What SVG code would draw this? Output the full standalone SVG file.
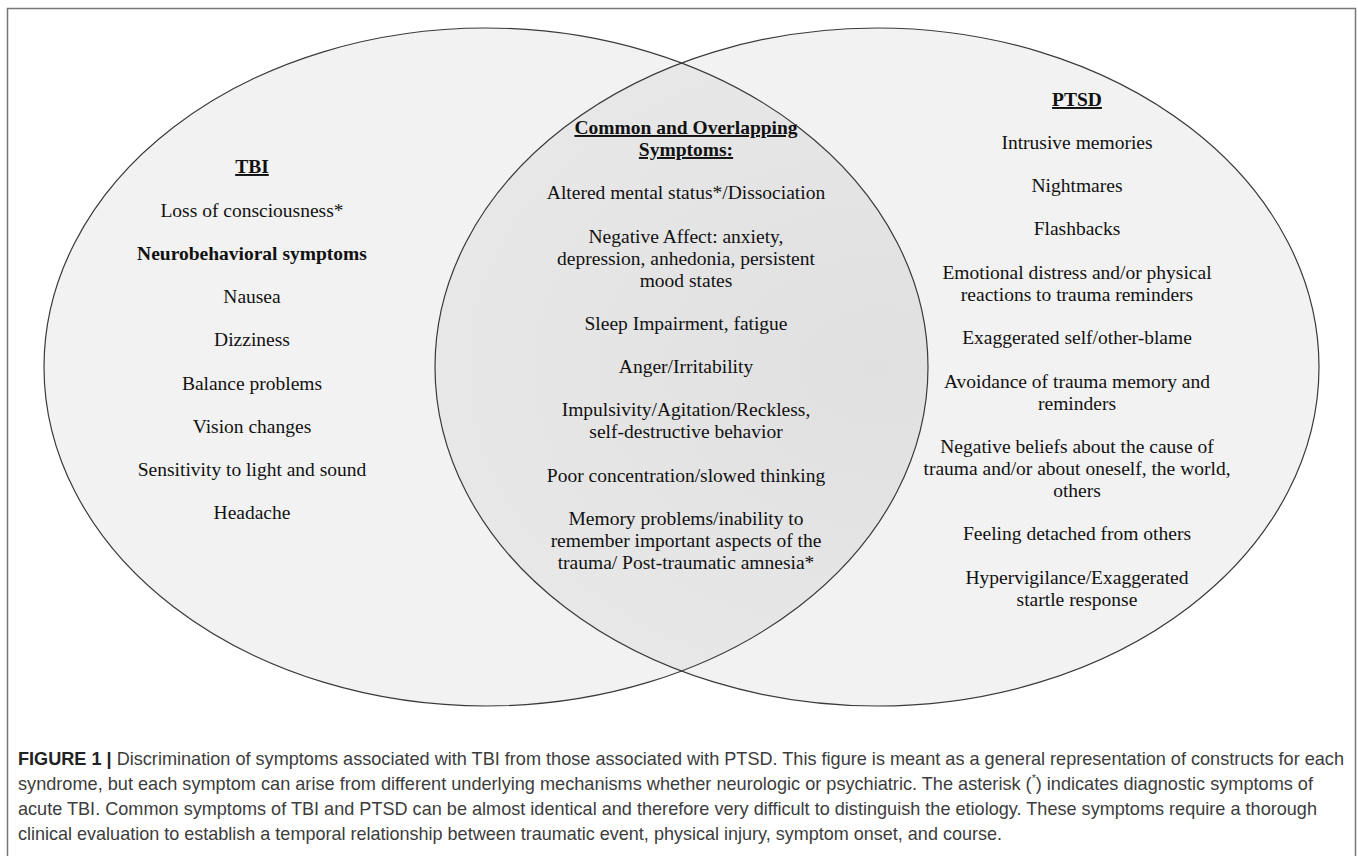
<svg xmlns="http://www.w3.org/2000/svg" width="1358" height="856" viewBox="0 0 1358 856">
<style>
.t{font-family:"Liberation Serif","Times New Roman",serif;font-size:19.5px;fill:#111;text-anchor:middle}
.b{font-weight:bold}
.u{text-decoration:underline}
.cap{font-family:"Liberation Sans",Arial,sans-serif;font-size:19px;fill:#3c3c3c}
.ell{fill:#f2f2f2;stroke:none}
.edge{fill:none;stroke:#3a3a3a;stroke-width:1.2}
</style>
<defs>
<clipPath id="clipL"><ellipse cx="486" cy="367" rx="442" ry="339"/></clipPath>
<radialGradient id="lens" cx="0.5" cy="0.5" r="0.6">
<stop offset="0" stop-color="#e0e0e0"/>
<stop offset="1" stop-color="#e9e9e9"/>
</radialGradient>
</defs>
<rect width="1358" height="856" fill="#fff"/>
<path d="M7.5,856 V8.5 H1355.5 V856" fill="none" stroke="#777" stroke-width="1.5"/>
<g id="tbi">
<ellipse class="ell" cx="486" cy="367" rx="442" ry="339"/>
</g>
<g id="ptsd">
<ellipse class="ell" cx="877" cy="367" rx="442" ry="339"/>
</g>
<g id="overlap">
<ellipse cx="877" cy="367" rx="442" ry="339" fill="url(#lens)" clip-path="url(#clipL)"/>
</g>
<g id="outlines">
<ellipse class="edge" cx="486" cy="367" rx="442" ry="339"/>
<ellipse class="edge" cx="877" cy="367" rx="442" ry="339"/>
</g>
<g id="tbi-text">
<text class="t b u" x="252" y="173">TBI</text>
<text class="t" x="252" y="217">Loss of consciousness*</text>
<text class="t b" x="252" y="260">Neurobehavioral symptoms</text>
<text class="t" x="252" y="303">Nausea</text>
<text class="t" x="252" y="346">Dizziness</text>
<text class="t" x="252" y="390">Balance problems</text>
<text class="t" x="252" y="433">Vision changes</text>
<text class="t" x="252" y="476">Sensitivity to light and sound</text>
<text class="t" x="252" y="519">Headache</text>
</g>
<g id="overlap-text">
<text class="t b u" x="686" y="134">Common and Overlapping</text>
<text class="t b u" x="686" y="156">Symptoms:</text>
<text class="t" x="686" y="199">Altered mental status*/Dissociation</text>
<text class="t" x="686" y="243">Negative Affect: anxiety,</text>
<text class="t" x="686" y="265">depression, anhedonia, persistent</text>
<text class="t" x="686" y="287">mood states</text>
<text class="t" x="686" y="330">Sleep Impairment, fatigue</text>
<text class="t" x="686" y="373">Anger/Irritability</text>
<text class="t" x="686" y="416">Impulsivity/Agitation/Reckless,</text>
<text class="t" x="686" y="438">self-destructive behavior</text>
<text class="t" x="686" y="482">Poor concentration/slowed thinking</text>
<text class="t" x="686" y="525">Memory problems/inability to</text>
<text class="t" x="686" y="547">remember important aspects of the</text>
<text class="t" x="686" y="569">trauma/ Post-traumatic amnesia*</text>
</g>
<g id="ptsd-text">
<text class="t b u" x="1077" y="106">PTSD</text>
<text class="t" x="1077" y="149">Intrusive memories</text>
<text class="t" x="1077" y="192">Nightmares</text>
<text class="t" x="1077" y="235">Flashbacks</text>
<text class="t" x="1077" y="279">Emotional distress and/or physical</text>
<text class="t" x="1077" y="301">reactions to trauma reminders</text>
<text class="t" x="1077" y="344">Exaggerated self/other-blame</text>
<text class="t" x="1077" y="388">Avoidance of trauma memory and</text>
<text class="t" x="1077" y="410">reminders</text>
<text class="t" x="1077" y="453">Negative beliefs about the cause of</text>
<text class="t" x="1077" y="475">trauma and/or about oneself, the world,</text>
<text class="t" x="1077" y="497">others</text>
<text class="t" x="1077" y="540">Feeling detached from others</text>
<text class="t" x="1077" y="584">Hypervigilance/Exaggerated</text>
<text class="t" x="1077" y="606">startle response</text>
</g>
<g id="caption">
<text class="cap" x="18" y="765" textLength="1326" lengthAdjust="spacingAndGlyphs"><tspan font-weight="bold" fill="#222">FIGURE 1 | </tspan>Discrimination of symptoms associated with TBI from those associated with PTSD. This figure is meant as a general representation of constructs for each</text>
<text class="cap" x="18" y="790" textLength="1295" lengthAdjust="spacingAndGlyphs">syndrome, but each symptom can arise from different underlying mechanisms whether neurologic or psychiatric. The asterisk (<tspan font-size="11" dy="-8">*</tspan><tspan dy="8">) indicates diagnostic symptoms of</tspan></text>
<text class="cap" x="18" y="815" textLength="1299" lengthAdjust="spacingAndGlyphs">acute TBI. Common symptoms of TBI and PTSD can be almost identical and therefore very difficult to distinguish the etiology. These symptoms require a thorough</text>
<text class="cap" x="18" y="840" textLength="984" lengthAdjust="spacingAndGlyphs">clinical evaluation to establish a temporal relationship between traumatic event, physical injury, symptom onset, and course.</text>
</g>
</svg>
